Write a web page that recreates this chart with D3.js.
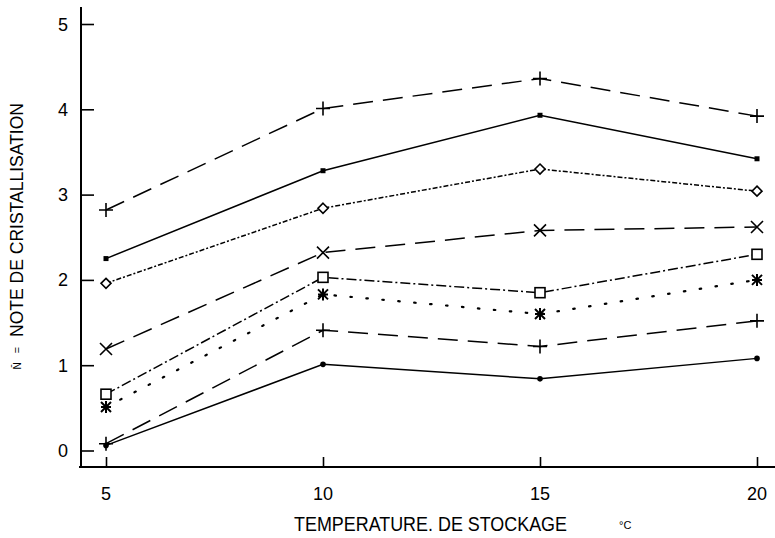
<!DOCTYPE html>
<html><head><meta charset="utf-8">
<script src="https://cdn.jsdelivr.net/npm/d3@7"></script>
<style>body{margin:0;background:#fff}svg{display:block}</style>
</head><body>
<svg id="c" width="775" height="538"></svg>
<script>
const temps = [5, 10, 15, 20];
const xTicks = [5, 10, 15, 20];
const yTicks = [0, 1, 2, 3, 4, 5];
const s1 = [2.82, 4.01, 4.36, 3.92];
const s2 = [2.25, 3.28, 3.93, 3.42];
const s3 = [1.96, 2.84, 3.30, 3.04];
const s4 = [1.19, 2.32, 2.58, 2.62];
const s5 = [0.66, 2.03, 1.85, 2.30];
const s6 = [0.51, 1.83, 1.60, 2.00];
const s7 = [0.08, 1.41, 1.22, 1.52];
const s8 = [0.06, 1.01, 0.84, 1.08];
const seriesList = [
  {v: s1, dash: "20,10", marker: "plus"},
  {v: s2, dash: null, marker: "square"},
  {v: s3, dash: "5,2,2,2", marker: "diamond"},
  {v: s4, dash: "20,10", marker: "x"},
  {v: s5, dash: "10,3,2,3", marker: "box"},
  {v: s6, dash: "1.5,14.5", marker: "star"},
  {v: s7, dash: "20,10", marker: "plus"},
  {v: s8, dash: null, marker: "dot"}
];
const svg = d3.select("#c");
const x = d3.scaleLinear().domain([5, 20]).range([106, 757]);
const y = d3.scaleLinear().domain([0, 5]).range([450.5, 24]);
const axisX = 81, axisY = 467;
const g = svg.append("g");
const FONT = "Liberation Sans, Arial, sans-serif";
// axes lines
g.append("line").attr("x1", axisX).attr("x2", axisX).attr("y1", 7).attr("y2", axisY).attr("stroke", "#000").attr("stroke-width", 2);
g.append("line").attr("x1", 79).attr("x2", 775).attr("y1", axisY).attr("y2", axisY).attr("stroke", "#000").attr("stroke-width", 2);
// y ticks
const yAx = g.append("g").attr("transform", `translate(${axisX},0)`)
  .call(d3.axisRight(y).tickValues(yTicks).tickSize(13).tickFormat(""));
yAx.select(".domain").remove();
yAx.selectAll("line").attr("stroke-width", 1.6);
g.selectAll(".yl").data(yTicks).enter().append("text")
  .attr("x", 68).attr("y", d => y(d) + 6.5).attr("text-anchor", "end")
  .attr("font-family", FONT).attr("font-size", 18).text(d => d);
// x ticks
const xAx = g.append("g").attr("transform", `translate(0,${axisY})`)
  .call(d3.axisTop(x).tickValues(xTicks).tickSize(10).tickFormat(""));
xAx.select(".domain").remove();
xAx.selectAll("line").attr("stroke-width", 1.6);
g.selectAll(".xl").data(xTicks).enter().append("text")
  .attr("x", d => x(d)).attr("y", 499.5).attr("text-anchor", "middle")
  .attr("font-family", FONT).attr("font-size", 18).text(d => d);
// titles
g.append("text").attr("x", 294).attr("y", 531)
  .attr("font-family", FONT).attr("font-size", 20)
  .attr("textLength", 273).attr("lengthAdjust", "spacingAndGlyphs")
  .text("TEMPERATURE. DE STOCKAGE");
g.append("text").attr("x", 619).attr("y", 529)
  .attr("font-family", FONT).attr("font-size", 11).text("°C");
g.append("text").attr("transform", "translate(23,337) rotate(-90)")
  .attr("font-family", FONT).attr("font-size", 18)
  .attr("textLength", 234).attr("lengthAdjust", "spacingAndGlyphs")
  .text("NOTE DE CRISTALLISATION");
g.append("text").attr("transform", "translate(21,350) rotate(-90)").attr("text-anchor", "middle")
  .attr("font-family", FONT).attr("font-size", 11).text("=");
g.append("text").attr("transform", "translate(21,366) rotate(-90)").attr("text-anchor", "middle")
  .attr("font-family", FONT).attr("font-size", 10).text("N\u0304");
// lines
const line = d3.line().x((d, i) => x(temps[i])).y(d => y(d));
seriesList.forEach(s => {
  const dotted = s.dash && s.dash.startsWith("1.5");
  g.append("path").datum(s.v).attr("d", line).attr("fill", "none").attr("stroke", "#000")
    .attr("stroke-width", dotted ? 2.2 : 1.5)
    .attr("stroke-linecap", dotted ? "round" : "butt")
    .attr("stroke-dasharray", s.dash);
  s.v.forEach((v, i) => {
    const cx = x(temps[i]), cy = y(v);
    const m = g.append("g").attr("transform", `translate(${cx},${cy})`).attr("stroke", "#000").attr("stroke-width", 1.6).attr("fill", "none");
    if (s.marker === "plus") {
      m.append("path").attr("d", "M-7,0H7M0,-7V7");
    } else if (s.marker === "square") {
      m.append("rect").attr("x", -2.5).attr("y", -2.5).attr("width", 5).attr("height", 5).attr("fill", "#000").attr("stroke", "none");
    } else if (s.marker === "dot") {
      m.append("circle").attr("r", 2.8).attr("fill", "#000").attr("stroke", "none");
    } else if (s.marker === "diamond") {
      m.append("path").attr("d", "M0,-5L5,0L0,5L-5,0Z").attr("fill", "#fff");
    } else if (s.marker === "x") {
      m.append("path").attr("d", "M-6,-6L6,6M-6,6L6,-6");
    } else if (s.marker === "box") {
      m.append("rect").attr("x", -5).attr("y", -5).attr("width", 10).attr("height", 10).attr("fill", "#fff");
    } else if (s.marker === "star") {
      m.attr("stroke-width", 2);
      m.append("path").attr("d", "M-5,0H5M0,-6V6M-5,-5L5,5M-5,5L5,-5");
    }
  });
});
</script>
</body></html>
